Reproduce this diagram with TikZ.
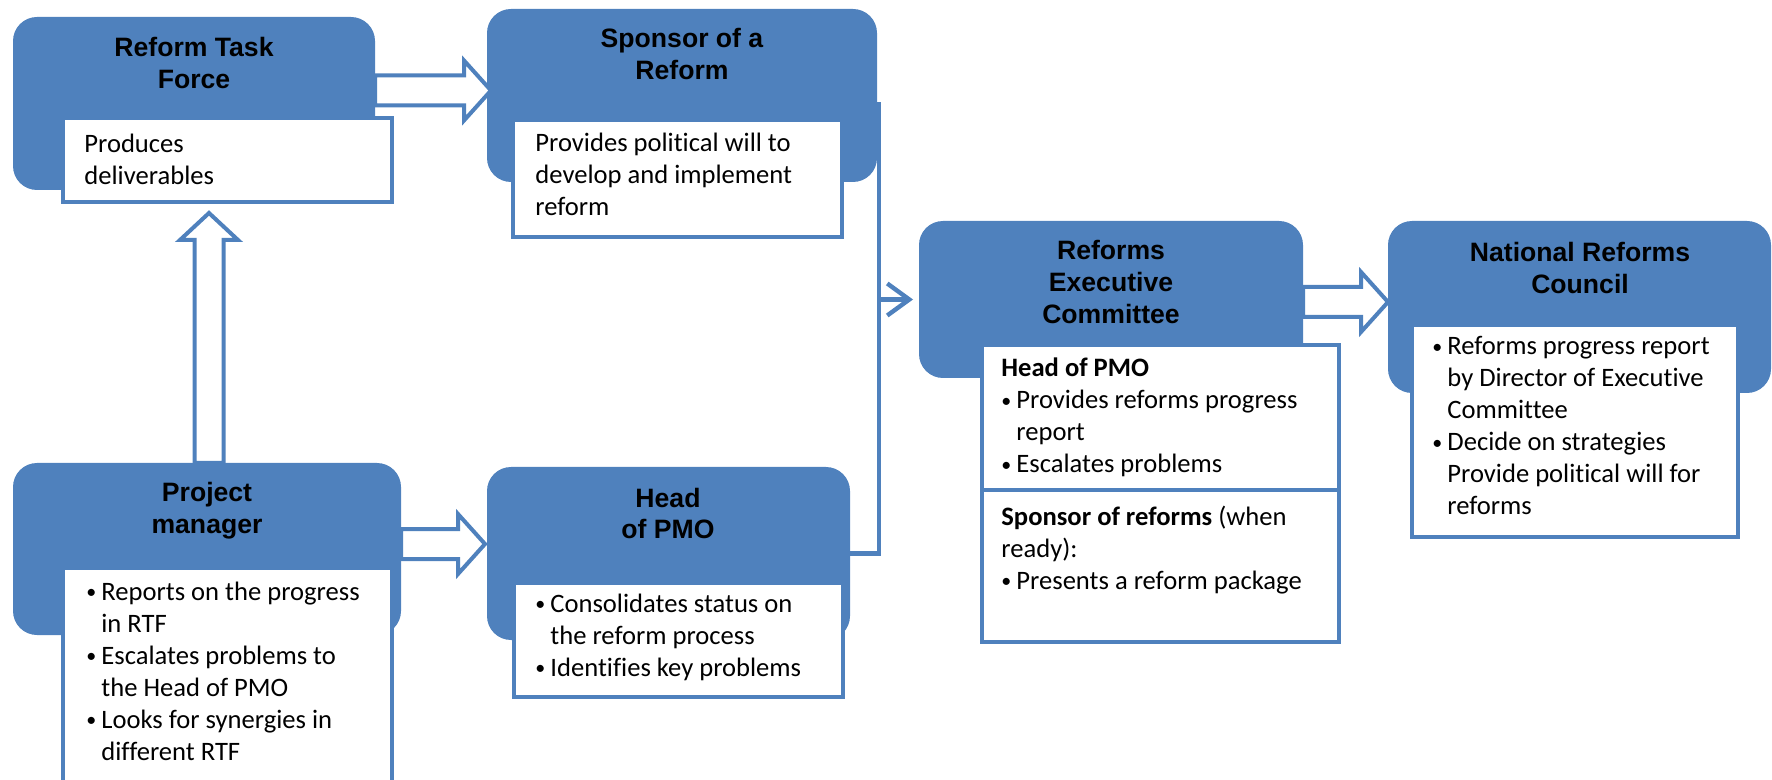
\documentclass[tikz,border=0pt]{standalone}
\usepackage{fontspec}
\setmainfont{Carlito}[Ligatures=NoCommon]
\newfontfamily\headfont{Liberation Sans}
\usepackage{xcolor}
\usepackage{tikz}
\usetikzlibrary{arrows.meta, calc}
\definecolor{ReformBlue}{RGB}{79, 129, 189}
\definecolor{ReformText}{RGB}{0, 0, 0}

% rows of text, baseline on the first row
\newcommand{\noterows}[1]{\begin{tabular}[t]{@{}l@{}}#1\end{tabular}}
\newcommand{\headrows}[1]{\begin{tabular}[t]{@{}c@{}}#1\end{tabular}}
\newcommand{\bulletpt}{\makebox[7.5pt][l]{\raisebox{0.8pt}{\fontsize{10}{10}\selectfont\textbullet}}}
\newcommand{\hangpt}{\hspace*{7.5pt}}

\tikzset{
  bluebox/.style={fill=ReformBlue, rounded corners=12pt, inner sep=0pt, outer sep=0pt},
  notebox/.style={draw=ReformBlue, fill=white, line width=2.2pt, inner sep=0pt, outer sep=0pt},
  headtext/.style={font=\headfont\bfseries\fontsize{13.3}{16}\selectfont, text=ReformText, inner sep=0pt, anchor=base},
  notetext/.style={font=\fontsize{13.3}{16}\selectfont, text=ReformText, inner sep=0pt, anchor=base west},
  fatarrow/.style={draw=ReformBlue, fill=white, line width=2pt, line join=miter,
    to path={let \p1=(\tikztostart), \p2=(\tikztotarget) in
      (\x1,\y1+7.5pt) -- (\x2-13.5pt,\y1+7.5pt) -- (\x2-13.5pt,\y1+15pt) -- (\x2,\y1)
      -- (\x2-13.5pt,\y1-15pt) -- (\x2-13.5pt,\y1-7.5pt) -- (\x1,\y1-7.5pt) -- cycle}},
  fatuparrow/.style={draw=ReformBlue, fill=white, line width=2pt, line join=miter,
    to path={let \p1=(\tikztostart), \p2=(\tikztotarget) in
      (\x1-7.25pt,\y1) -- (\x1-7.25pt,\y2-13.5pt) -- (\x1-14.5pt,\y2-13.5pt) -- (\x1,\y2)
      -- (\x1+14.5pt,\y2-13.5pt) -- (\x1+7.25pt,\y2-13.5pt) -- (\x1+7.25pt,\y1) -- cycle}},
  link/.style={draw=ReformBlue, line width=2.2pt},
}

\begin{document}
\begin{tikzpicture}[x=0.5pt,y=-0.5pt]
  \useasboundingbox (0,0) rectangle (1772,780);

  % blue role boxes
  \node[bluebox, minimum width=181pt, minimum height=86.5pt] (rtf) at (194,103.5) {};
  \node[bluebox, minimum width=195pt, minimum height=86.5pt] (spon) at (682,95.5) {};
  \node[bluebox, minimum width=194pt, minimum height=86pt] (pm) at (207,549) {};
  \node[bluebox, minimum width=181.5pt, minimum height=86.5pt] (hpmo) at (668.5,553.5) {};
  \node[bluebox, minimum width=192pt, minimum height=78.5pt] (rec) at (1111,299.5) {};
  \node[bluebox, minimum width=191.5pt, minimum height=86pt] (nrc) at (1579.5,307) {};

  % white task boxes
  \node[notebox, minimum width=164.5pt, minimum height=42pt] (rtfw) at (227.5,160) {};
  \node[notebox, minimum width=164.5pt, minimum height=58.5pt] (sponw) at (677.5,178.5) {};
  \node[notebox, minimum width=164.5pt, minimum height=113.5pt] (pmw) at (227.5,681.5) {};
  \node[notebox, minimum width=164.5pt, minimum height=57pt] (hpmow) at (678.5,640) {};
  \node[notebox, minimum width=178.5pt, minimum height=72.5pt] (recpmo) at (1160.5,417.5) {};
  \node[notebox, minimum width=178.5pt, minimum height=76pt] (recspon) at (1160.5,566) {};
  \node[notebox, minimum width=163pt, minimum height=106pt] (nrcw) at (1575,431) {};

  % titles
  \node[headtext] (rtftitle) at (194,57) {\headrows{Reform Task\\Force}};
  \node[headtext] (spontitle) at (682,48) {\headrows{Sponsor of a\\Reform}};
  \node[headtext] (pmtitle) at (207,502) {\headrows{Project\\manager}};
  \node[headtext] (hpmotitle) at (668,507) {\headrows{Head\\of PMO}};
  \node[headtext] (rectitle) at (1111,260) {\headrows{Reforms\\Executive\\Committee}};
  \node[headtext] (nrctitle) at (1580,262) {\headrows{National Reforms\\Council}};

  % tasks
  \node[notetext] (rtfnote) at (84,153) {\noterows{Produces\\deliverables}};
  \node[notetext] (sponnote) at (535,152) {\noterows{Provides political will to\\develop and implement\\reform}};
  \node[notetext] (pmnote) at (86,600) {\noterows{\bulletpt Reports on the progress\\\hangpt in RTF\\
    \bulletpt Escalates problems to\\\hangpt the Head of PMO\\
    \bulletpt Looks for synergies in\\\hangpt different RTF}};
  \node[notetext] (hpmonote) at (535,612) {\noterows{\bulletpt Consolidates status on\\\hangpt the reform process\\
    \bulletpt Identifies key problems}};
  \node[notetext] (recpmonote) at (1001,377) {\noterows{\textbf{Head of PMO}\\
    \bulletpt Provides reforms progress\\\hangpt report\\\bulletpt Escalates problems}};
  \node[notetext] (recsponnote) at (1001,525) {\noterows{\textbf{Sponsor of reforms} (when\\ready):\\
    \bulletpt Presents a reform package}};
  \node[notetext] (nrcnote) at (1432,355) {\noterows{\bulletpt Reforms progress report\\\hangpt by Director of Executive\\
    \hangpt Committee\\\bulletpt Decide on strategies\\\hangpt Provide political will for\\\hangpt reforms}};

  % hollow arrows
  \draw[fatarrow] ([shift={(0,-13)}]rtf.east) to ([shift={(4,0)}]spon.west);
  \draw[fatarrow] ([shift={(0,-5)}]pm.east) to ([shift={(-2,0)}]hpmo.west);
  \draw[fatarrow] ([shift={(0,2.5)}]rec.east) to (nrc.west);
  \draw[fatuparrow] ([shift={(2,0)}]pm.north) to ([shift={(0,11)}]rtfw.south);

  % reporting lines into the committee
  \coordinate (bend) at ($(rec.west)+(-40,0)$);
  \draw[link, -{Straight Barb[length=11pt, width=16pt]}] ([shift={(-25,9)}]spon.east) -| (bend) -- ([shift={(-6,0)}]rec.west);
  \draw[link] ([shift={(-5,0)}]hpmo.east) -| (bend);
\end{tikzpicture}
\end{document}
